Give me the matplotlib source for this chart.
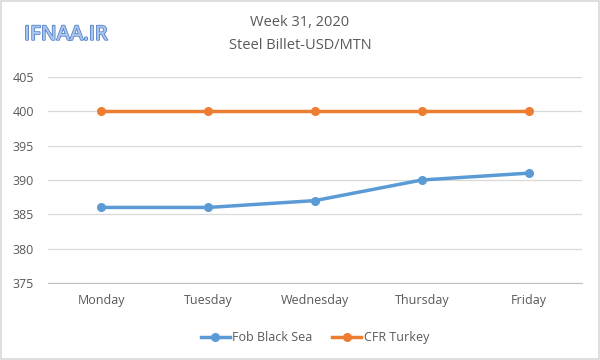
import matplotlib
matplotlib.use("Agg")
import matplotlib.pyplot as plt
import matplotlib.patheffects as pe
from matplotlib.patches import Rectangle

days = ["Monday", "Tuesday", "Wednesday", "Thursday", "Friday"]
fob_black_sea = [386, 386, 387, 390, 391]
cfr_turkey = [400, 400, 400, 400, 400]
yticks = [375, 380, 385, 390, 395, 400, 405]

plt.rcParams['font.family'] = ['Open Sans', 'DejaVu Sans']

fig = plt.figure(figsize=(6, 3.6), dpi=100)
ax = fig.add_axes([0.08, 0.214, 0.89, 0.572])

x = list(range(len(days)))
ax.plot(x, fob_black_sea, color="#5B9BD5", lw=2.5, marker="o", ms=5.5, label="Fob Black Sea")
ax.plot(x, cfr_turkey, color="#ED7D31", lw=2.5, marker="o", ms=5.5, label="CFR Turkey")

ax.set_xlim(-0.5, len(days) - 0.5)
ax.set_ylim(375, 405)
ax.set_yticks(yticks)
ax.set_xticks(x)
ax.set_xticklabels(days)
ax.grid(axis="y", color="#D9D9D9", lw=0.9)
ax.set_axisbelow(True)
for s in ["top", "right", "left"]:
    ax.spines[s].set_visible(False)
ax.spines["bottom"].set_color("#BFBFBF")
ax.tick_params(axis="both", length=0, labelsize=9, colors="#595959", pad=8)
ax.tick_params(axis="y", pad=10)

fig.text(0.5, 0.937, "Week 31, 2020", ha="center", va="center", fontsize=10.5, color="#595959")
fig.text(0.5, 0.873, "Steel Billet-USD/MTN", ha="center", va="center", fontsize=10.5, color="#595959")

fig.text(0.04, 0.903, "IFNAA.IR", ha="left", va="center", fontsize=14.5, color="#A9C6EA",
         fontweight="semibold",
         path_effects=[pe.withStroke(linewidth=1.0, foreground="#4472C4")])

leg = ax.legend(loc="upper center", bbox_to_anchor=(0.5, -0.18), ncol=2, frameon=False,
                fontsize=9, handlelength=2.3, columnspacing=1.6, handletextpad=0.2)
for t in leg.get_texts():
    t.set_color("#595959")

fig.patches.append(Rectangle((0.002, 0.003), 0.996, 0.994, transform=fig.transFigure,
                             fill=False, edgecolor="#D9D9D9", lw=1.2))

fig.savefig("out.png", dpi=100)
